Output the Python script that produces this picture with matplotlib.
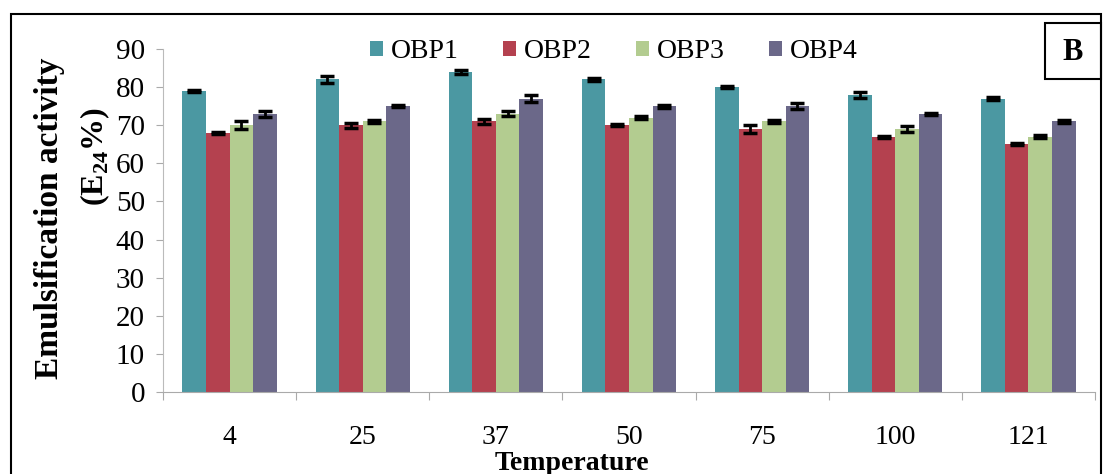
import numpy as np
import matplotlib
matplotlib.use('Agg')
from matplotlib import pyplot as plt
from matplotlib.patches import Rectangle

temps = ['4', '25', '37', '50', '75', '100', '121']
series = ['OBP1', 'OBP2', 'OBP3', 'OBP4']
obp1 = [79, 82, 84, 82, 80, 78, 77]
obp2 = [68, 70, 71, 70, 69, 67, 65]
obp3 = [70, 71, 73, 72, 71, 69, 67]
obp4 = [73, 75, 77, 75, 75, 73, 71]
err1 = [0.3, 1.0, 0.6, 0.5, 0.3, 0.8, 0.4]
err2 = [0.3, 0.6, 0.6, 0.3, 1.0, 0.3, 0.3]
err3 = [1.0, 0.3, 0.7, 0.4, 0.3, 0.8, 0.4]
err4 = [0.8, 0.3, 0.8, 0.4, 0.8, 0.3, 0.5]
colors = ['#4b98a2', '#b4414f', '#b3cc90', '#6b6889']

plt.rcParams['font.family'] = ['Liberation Serif', 'DejaVu Serif']
plt.rcParams['mathtext.fontset'] = 'custom'
plt.rcParams['mathtext.bf'] = 'Liberation Serif:bold'
plt.rcParams['mathtext.rm'] = 'Liberation Serif'

fig = plt.figure(figsize=(11.04, 4.74), dpi=100)
W, H = 1104, 474
ax = fig.add_axes([163 / W, 1 - 392 / H, (1095 - 163) / W, (392 - 49) / H])

x = np.arange(len(temps))
bw = 0.177
vals = [obp1, obp2, obp3, obp4]
errs = [err1, err2, err3, err4]
for i in range(4):
    pos = x + (i - 1.5) * bw
    ax.bar(pos, vals[i], bw, color=colors[i], label=series[i], zorder=2)
    ax.errorbar(pos, vals[i], yerr=errs[i], fmt='none', ecolor='black',
                elinewidth=2, capsize=5, capthick=2.5, zorder=3)

ax.set_xlim(-0.5, len(temps) - 0.5)
ax.set_ylim(0, 90)
ax.set_yticks(np.arange(0, 91, 10))
ax.set_xticks(np.arange(-0.5, len(temps), 1))
ax.set_xticklabels([])
ax.set_xticks(x, minor=True)
ax.set_xticklabels(temps, minor=True)
ax.tick_params(axis='x', which='minor', length=0, pad=24, labelsize=20)
ax.tick_params(axis='x', which='major', length=6, color='#aaaaaa', direction='out')
ax.tick_params(axis='y', length=5, color='#aaaaaa', direction='out', labelsize=21, pad=8)
for s in ['top', 'right']:
    ax.spines[s].set_visible(False)
ax.spines['left'].set_color('#bbbbbb')
ax.spines['bottom'].set_color('#aaaaaa')

fig.text(572 / W, 1 - 463 / H, 'Temperature', fontsize=20, fontweight='bold',
         ha='center', va='center')
fig.text(50 / W, 1 - 218 / H, 'Emulsification activity', rotation=90,
         fontsize=24, fontweight='bold', ha='center', va='center')
fig.text(95 / W, 1 - 157 / H, r'(E$_\mathbf{24}$%)', rotation=90,
         fontsize=23, fontweight='bold', ha='center', va='center')

fig.legend(loc='center left', bbox_to_anchor=(370 / W, 1 - 52 / H), ncol=4,
           frameon=False, fontsize=20, handlelength=0.45, handleheight=0.45,
           handletextpad=0.3, columnspacing=1.6, borderpad=0, borderaxespad=0)

# outer frame and panel letter
fig.patches.append(Rectangle((11 / W, -0.1), (1101 - 11) / W, 1.1 - 14 / H,
                             transform=fig.transFigure, fill=False,
                             edgecolor='black', linewidth=1.5))
fig.patches.append(Rectangle((1045 / W, 1 - 79 / H), (1101 - 1045) / W, 56 / H,
                             transform=fig.transFigure, fill=False,
                             edgecolor='black', linewidth=1.5))
fig.text(1073 / W, 1 - 52 / H, 'B', fontsize=22, fontweight='bold',
         ha='center', va='center')

fig.savefig('out.png', dpi=100)
